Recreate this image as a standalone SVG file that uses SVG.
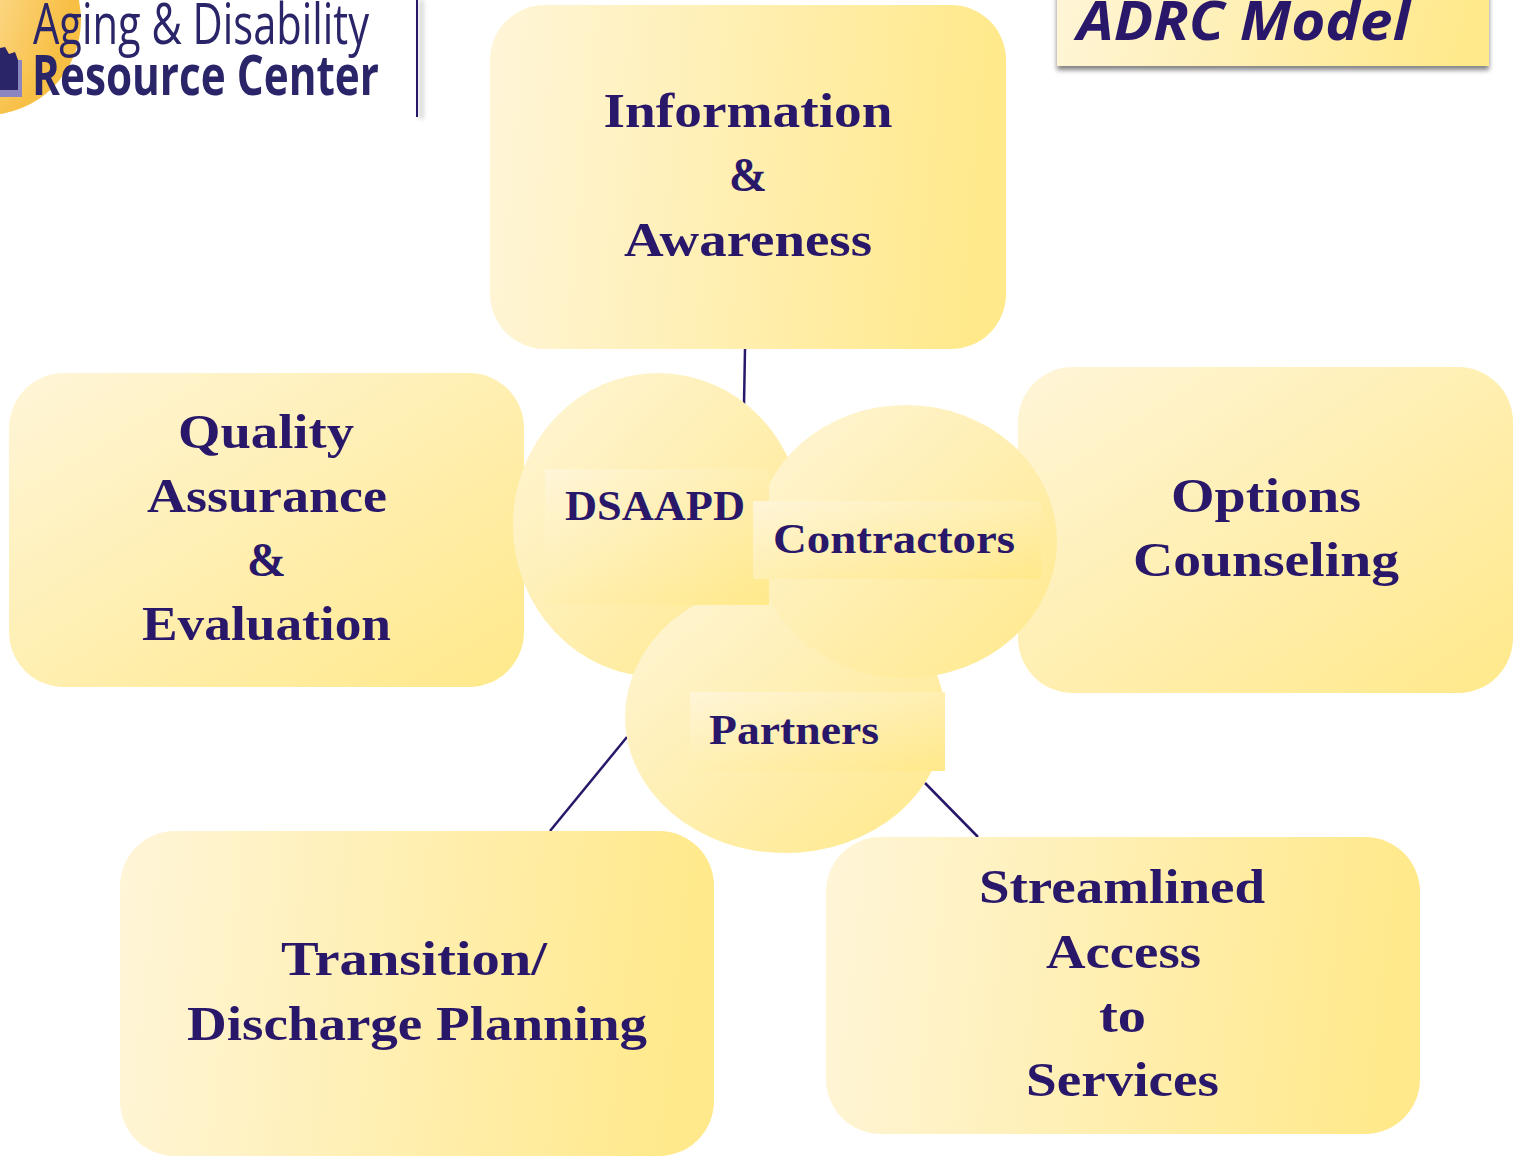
<svg xmlns="http://www.w3.org/2000/svg" width="1516" height="1156" viewBox="0 0 1516 1156">
<style>
.t{font-family:"Liberation Serif",serif;font-weight:700;fill:#29186a;text-anchor:middle;font-size:49px}
.s{font-size:43px;text-anchor:start}
.c{stroke:#29186a;stroke-width:2.5;fill:none}
.l{font-family:"Open Sans",sans-serif;fill:#2a2569}
</style>
<defs>
<linearGradient id="h" x1="0" y1="0" x2="1" y2="0.06"><stop offset="0" stop-color="#fff5d8"/><stop offset="1" stop-color="#ffe98a"/></linearGradient>
<linearGradient id="d" x1="0" y1="0" x2="1" y2="1"><stop offset="0" stop-color="#fff5d8"/><stop offset="1" stop-color="#ffe98a"/></linearGradient>
<radialGradient id="sun" cx="0" cy="0.3" r="0.95"><stop offset="0" stop-color="#fff6d8"/><stop offset="1" stop-color="#f8bf45"/></radialGradient>
<filter id="blur" x="-10%" y="-30%" width="120%" height="160%"><feGaussianBlur stdDeviation="2.5"/></filter>
<filter id="blur2" x="-200%" y="-10%" width="500%" height="120%"><feGaussianBlur stdDeviation="2"/></filter>
</defs>
<rect width="1516" height="1156" fill="#fff"/>
<g id="logo">
<circle cx="-14" cy="20" r="95" fill="url(#sun)"/>
<path d="M0 48 L5 47 L9 54 L15 52 L18 60 L22 60 L22 97 L0 97Z" fill="#2a2569"/>
<path d="M0 90 H18 V60 H22 V97 H0Z" fill="#8b86c0"/>
<text class="l" x="33" y="44" font-size="57" font-weight="500" textLength="336" lengthAdjust="spacingAndGlyphs">Aging &amp; Disability</text>
<text class="l" x="32" y="95" font-size="56" font-weight="700" textLength="347" lengthAdjust="spacingAndGlyphs">Resource Center</text>
<rect x="419" y="0" width="5" height="119" fill="#bbb" opacity=".55" filter="url(#blur2)"/>
<path d="M417 0V117" stroke="#29186a" stroke-width="2"/>
</g>
<g id="title">
<rect x="1057" y="-30" width="432" height="100" fill="#555" opacity=".75" filter="url(#blur)"/>
<rect x="1057" y="-30" width="432" height="96" fill="url(#h)"/>
<text x="1077" y="40" font-family="'Open Sans',sans-serif" font-weight="700" font-style="italic" font-size="54" fill="#29186a" textLength="333" lengthAdjust="spacingAndGlyphs">ADRC Model</text>
</g>
<g id="connectors">
<path class="c" d="M745 349L744 404"/>
<path class="c" d="M627 737L550 831"/>
<path class="c" d="M925 783L978 837"/>
</g>
<g id="info">
<rect x="490" y="5" width="516" height="344" rx="55" fill="url(#h)"/>
<text class="t" x="748" y="127" textLength="289" lengthAdjust="spacingAndGlyphs">Information</text>
<text class="t" x="748" y="191" textLength="38" lengthAdjust="spacingAndGlyphs">&amp;</text>
<text class="t" x="748" y="256" textLength="248" lengthAdjust="spacingAndGlyphs">Awareness</text>
</g>
<g id="quality">
<rect x="9" y="373" width="515" height="314" rx="55" fill="url(#d)"/>
<text class="t" x="266" y="448" textLength="176" lengthAdjust="spacingAndGlyphs">Quality</text>
<text class="t" x="267" y="512" textLength="240" lengthAdjust="spacingAndGlyphs">Assurance</text>
<text class="t" x="266.500" y="576" textLength="39" lengthAdjust="spacingAndGlyphs">&amp;</text>
<text class="t" x="266.500" y="640" textLength="249" lengthAdjust="spacingAndGlyphs">Evaluation</text>
</g>
<g id="options">
<rect x="1018" y="367" width="495" height="326" rx="55" fill="url(#d)"/>
<text class="t" x="1266" y="512" textLength="190" lengthAdjust="spacingAndGlyphs">Options</text>
<text class="t" x="1266" y="576" textLength="266" lengthAdjust="spacingAndGlyphs">Counseling</text>
</g>
<g id="transition">
<rect x="120" y="831" width="594" height="325" rx="55" fill="url(#h)"/>
<text class="t" x="414" y="975" textLength="266" lengthAdjust="spacingAndGlyphs">Transition/</text>
<text class="t" x="417" y="1040" textLength="460" lengthAdjust="spacingAndGlyphs">Discharge Planning</text>
</g>
<g id="access">
<rect x="826" y="837" width="594" height="297" rx="55" fill="url(#h)"/>
<text class="t" x="1122" y="903" textLength="286" lengthAdjust="spacingAndGlyphs">Streamlined</text>
<text class="t" x="1123.500" y="968" textLength="155" lengthAdjust="spacingAndGlyphs">Access</text>
<text class="t" x="1122.500" y="1032" textLength="47" lengthAdjust="spacingAndGlyphs">to</text>
<text class="t" x="1122.500" y="1096" textLength="193" lengthAdjust="spacingAndGlyphs">Services</text>
</g>
<g id="dsaapd-circle"><ellipse cx="658" cy="525" rx="145" ry="152" fill="url(#d)"/></g>
<g id="partners-circle"><ellipse cx="785" cy="717" rx="160" ry="136" fill="url(#d)"/></g>
<g id="contractors-circle"><ellipse cx="906" cy="541.500" rx="151" ry="136.500" fill="url(#d)"/></g>
<g id="dsaapd">
<rect x="545" y="469" width="224" height="136" fill="url(#d)"/>
<text class="t s" x="565" y="520" textLength="180" lengthAdjust="spacingAndGlyphs">DSAAPD</text>
</g>
<g id="contractors">
<rect x="753" y="501" width="288" height="78" fill="url(#d)"/>
<text class="t s" x="773" y="553" textLength="242" lengthAdjust="spacingAndGlyphs">Contractors</text>
</g>
<g id="partners">
<rect x="690" y="692" width="255" height="79" fill="url(#d)"/>
<text class="t s" x="709" y="744" textLength="170" lengthAdjust="spacingAndGlyphs">Partners</text>
</g>
</svg>
